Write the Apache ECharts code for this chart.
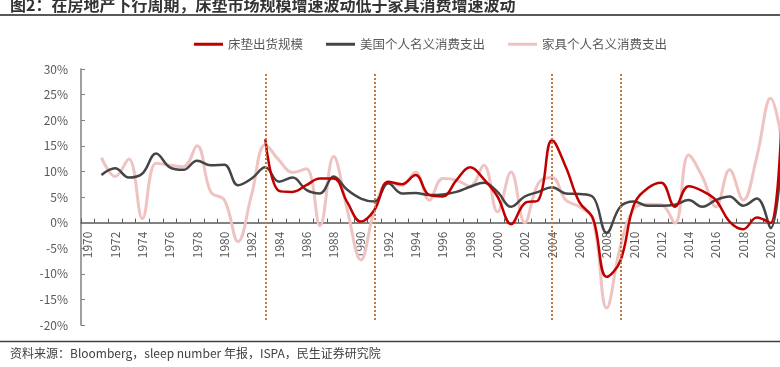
<!DOCTYPE html>
<html>
<head>
<meta charset="utf-8">
<script src="https://cdn.jsdelivr.net/npm/echarts@6/dist/echarts.min.js"></script>
<style>
  html,body{margin:0;padding:0;background:#fff;}
  #chart{width:780px;height:367px;}
</style>
</head>
<body>
<div id="chart"></div>
<script>
// 年份 1970 - 2021
const years = []
for (let y = 1970; y <= 2021; y++) years.push(String(y))

// 床垫出货规模 (1983 起)
const mattress = [
  null, null, null, null, null, null, null, null, null, null,
  null, null, null, 16.3, 6.2, 6.0, 7.3, 8.6, 8.6, 4.0,
  0.2, 2.5, 8.0, 7.5, 9.3, 5.4, 5.1, 8.3, 10.8, 8.5,
  5.1, -0.3, 3.8, 4.4, 16.1, 10.9, 4.0, 0.8, -10.6, -7.5,
  3.5, 6.7, 7.8, 3.1, 7.1, 6.2, 4.4, 0.2, -1.3, 1.0,
  -0.1, 36
]
// 美国个人名义消费支出
const usPce = [
  null, 9.3, 10.6, 8.8, 9.6, 13.5, 10.8, 10.3, 12.1, 11.2,
  11.3, 7.3, 8.6, 10.8, 8.0, 8.8, 6.4, 5.7, 9.0, 6.4,
  4.7, 4.1, 7.7, 5.7, 5.8, 5.4, 5.5, 6.0, 7.0, 7.8,
  6.0, 3.1, 5.1, 6.0, 6.9, 5.7, 5.6, 5.0, -2.0, 3.1,
  4.1, 3.3, 3.3, 3.5, 4.4, 3.1, 4.4, 5.1, 3.3, 4.7,
  -1.1, 22
]
// 家具个人名义消费支出
const furniture = [
  null, 12.7, 9.0, 12.4, 0.8, 11.6, 11.2, 10.9, 15.0, 6.0,
  4.4, -3.7, 5.5, 15.2, 12.2, 9.8, 10.5, -0.6, 12.9, 2.5,
  -7.3, 2.5, 7.7, 7.3, 9.9, 4.4, 8.6, 8.3, 7.1, 11.2,
  2.1, 9.9, 0.0, 7.7, 8.8, 4.4, 3.1, 0.5, -16.7, -4.7,
  2.7, 3.6, 3.5, -0.1, 13.2, 9.0, 3.1, 10.3, 4.4, 12.9,
  24.3, 13
]
// 房地产下行周期分隔线
const cycleYears = ['1983', '1991', '2004', '2009']

const font = '"Noto Sans CJK SC", "Noto Sans", sans-serif'
const chart = echarts.init(document.getElementById('chart'))

// 网格: top 69, 高 256, 0% 在 -20~30 的 3/5 处
const gridTop = 69
const gridBottom = 42
const gridH = 367 - gridTop - gridBottom
const zeroOffset = -gridH * 20 / 50

const opt = {
  animation: false,
  backgroundColor: '#fff',
  textStyle: { fontFamily: font },
  legend: {
    data: ['床垫出货规模', '美国个人名义消费支出', '家具个人名义消费支出'],
    left: 189,
    top: 33,
    icon: 'rect',
    itemWidth: 29,
    itemHeight: 3,
    itemGap: 23,
    textStyle: { color: '#595959', fontSize: 12.5, fontFamily: font }
  },
  grid: {
    left: 81,
    top: gridTop,
    bottom: gridBottom,
    right: -11,
    containLabel: false,
    outerBoundsMode: 'none'
  },
  xAxis: {
    type: 'category',
    data: years,
    boundaryGap: true,
    position: 'bottom',
    offset: zeroOffset,
    axisLine: { onZero: false, lineStyle: { color: '#595959', width: 1.5 } },
    axisTick: { show: true, inside: true, length: 4, interval: 0, lineStyle: { color: '#595959' } },
    axisLabel: { interval: 1, rotate: 90, margin: 9, color: '#595959', fontSize: 12, fontFamily: font },
    splitLine: { show: false }
  },
  yAxis: {
    type: 'value',
    min: -20,
    max: 30,
    interval: 5,
    axisLine: { show: true, lineStyle: { color: '#808080', width: 1.5 } },
    axisTick: { show: true, inside: true, length: 4, lineStyle: { color: '#808080' } },
    axisLabel: { formatter: '{value}%', margin: 13, color: '#595959', fontSize: 12, fontFamily: font },
    splitLine: { show: false }
  },
  series: [
    {
      name: 'cycle',
      type: 'line',
      data: [],
      silent: true,
      markLine: {
        silent: true,
        symbol: ['none', 'none'],
        label: { show: false },
        lineStyle: { color: '#C47A3C', width: 2, type: [2, 2] },
        data: cycleYears.map(y => [{ coord: [y, 29] }, { coord: [y, -19] }])
      }
    },
    {
      name: '家具个人名义消费支出',
      type: 'line',
      data: furniture,
      smooth: 0.4,
      showSymbol: false,
      itemStyle: { color: '#EFC3C2' },
      lineStyle: { color: '#EFC3C2', width: 3 }
    },
    {
      name: '美国个人名义消费支出',
      type: 'line',
      data: usPce,
      smooth: 0.4,
      showSymbol: false,
      itemStyle: { color: '#454545' },
      lineStyle: { color: '#454545', width: 2.5 }
    },
    {
      name: '床垫出货规模',
      type: 'line',
      data: mattress,
      smooth: 0.4,
      showSymbol: false,
      itemStyle: { color: '#C00000' },
      lineStyle: { color: '#C00000', width: 2.5 }
    }
  ],
  graphic: [
    {
      type: 'text', left: 10, top: -3,
      style: { text: '图2：在房地产下行周期，床垫市场规模增速波动低于家具消费增速波动', fill: '#333333', font: 'bold 16px ' + font }
    },
    { type: 'line', shape: { x1: 0, y1: 15, x2: 780, y2: 15 }, style: { stroke: '#595959', lineWidth: 2 } },
    { type: 'line', shape: { x1: 0, y1: 341.5, x2: 780, y2: 341.5 }, style: { stroke: '#404040', lineWidth: 1.5 } },
    {
      type: 'text', left: 10, top: 347,
      style: { text: '资料来源：Bloomberg，sleep number 年报，ISPA，民生证券研究院', fill: '#404040', font: '12px ' + font }
    }
  ]
}
chart.setOption(opt)
</script>
</body>
</html>
